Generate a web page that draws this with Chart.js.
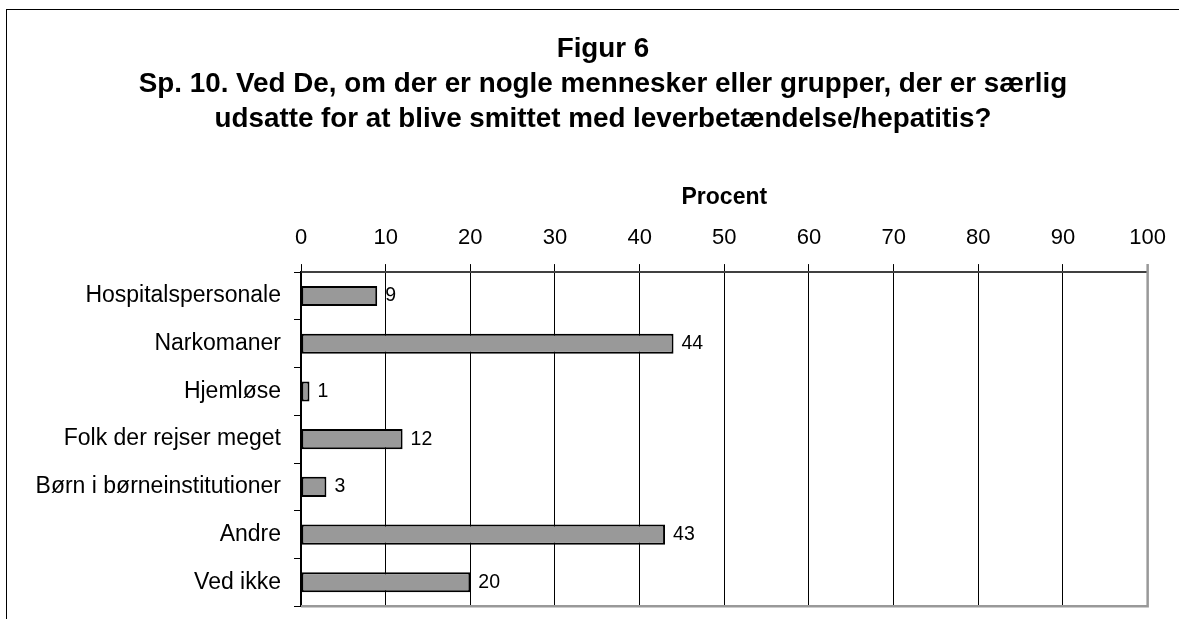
<!DOCTYPE html>
<html>
<head>
<meta charset="utf-8">
<script src="https://cdn.jsdelivr.net/npm/chart.js@4/dist/chart.umd.min.js"></script>
<style>
  html, body { margin: 0; padding: 0; background: #fff; overflow: hidden; }
  #frame { position: absolute; left: 6px; top: 9px; width: 1300px; height: 800px; border: 1.5px solid #000; }
  #wrap { position: absolute; left: 0; top: 0; width: 1179px; height: 619px; overflow: hidden; }
</style>
</head>
<body>
<div id="frame"></div>
<div id="wrap"><canvas id="myChart" width="1179" height="633"></canvas></div>
<script>
const FONT = '"Liberation Sans", Arial, sans-serif'

const titleLines = [
  'Figur 6',
  'Sp. 10. Ved De, om der er nogle mennesker eller grupper, der er særlig',
  'udsatte for at blive smittet med leverbetændelse/hepatitis?'
]
const categories = [
  'Hospitalspersonale',
  'Narkomaner',
  'Hjemløse',
  'Folk der rejser meget',
  'Børn i børneinstitutioner',
  'Andre',
  'Ved ikke'
]
const values = [9, 44, 1, 12, 3, 43, 20]
const axisTitle = 'Procent'
const xMin = 0, xMax = 100, xStep = 10

// tal ved enden af hver bjælke
const valueLabels = {
  id: 'valueLabels',
  afterDatasetsDraw(chart) {
    const ctx = chart.ctx
    const meta = chart.getDatasetMeta(0)
    ctx.save()
    ctx.font = '19.5px ' + FONT
    ctx.fillStyle = '#000'
    ctx.textBaseline = 'middle'
    ctx.textAlign = 'left'
    meta.data.forEach((bar, i) => {
      ctx.fillText(values[i], bar.x + 8, bar.y)
    })
    ctx.restore()
  }
}

// grå kant højre og nederst
const plotFrame = {
  id: 'plotFrame',
  afterLayout(chart) {
    // lange kategorinavne må gå ud over aksens venstre kant
    chart.scales.y.left = 0
  },
  beforeDatasetsDraw(chart) {
    const {ctx, chartArea: a} = chart
    ctx.save()
    ctx.strokeStyle = '#999'
    ctx.lineWidth = 2.5
    ctx.beginPath()
    ctx.moveTo(a.right, a.top - 8)
    ctx.lineTo(a.right, a.bottom)
    ctx.lineTo(a.left, a.bottom)
    ctx.stroke()
    ctx.restore()
  }
}

new Chart('myChart', {
  type: 'bar',
  data: {
    labels: categories,
    datasets: [{
      data: values,
      backgroundColor: '#999999',
      borderColor: '#000',
      borderWidth: 2,
      borderSkipped: false,
      barPercentage: 0.42,
      categoryPercentage: 1
    }]
  },
  options: {
    indexAxis: 'y',
    responsive: false,
    animation: false,
    layout: { padding: { left: 51, right: 24, top: 0, bottom: 0 } },
    plugins: {
      legend: { display: false },
      tooltip: { enabled: false },
      title: {
        display: true,
        text: titleLines,
        color: '#000',
        font: { family: FONT, size: 27.8, weight: 'bold', lineHeight: 1.26 },
        padding: { top: 32, bottom: 20 }
      }
    },
    scales: {
      x: {
        position: 'top',
        min: xMin,
        max: xMax,
        ticks: {
          stepSize: xStep,
          color: '#000',
          padding: 13,
          font: { family: FONT, size: 22 }
        },
        grid: { color: '#000', lineWidth: 1, tickLength: 8, tickColor: '#000' },
        border: { color: '#404040', width: 2 },
        title: {
          display: true,
          text: axisTitle,
          color: '#000',
          font: { family: FONT, size: 23, weight: 'bold', lineHeight: 1.2 },
          padding: { top: 27, bottom: 0 }
        }
      },
      y: {
        afterFit(scale) { scale.width = 250 },
        ticks: {
          color: '#000',
          padding: 13,
          font: { family: FONT, size: 23 }
        },
        grid: { drawOnChartArea: false, tickLength: 7, tickColor: '#000', offset: true },
        border: { color: '#000', width: 1.5 }
      }
    }
  },
  plugins: [plotFrame, valueLabels]
})
</script>
</body>
</html>
